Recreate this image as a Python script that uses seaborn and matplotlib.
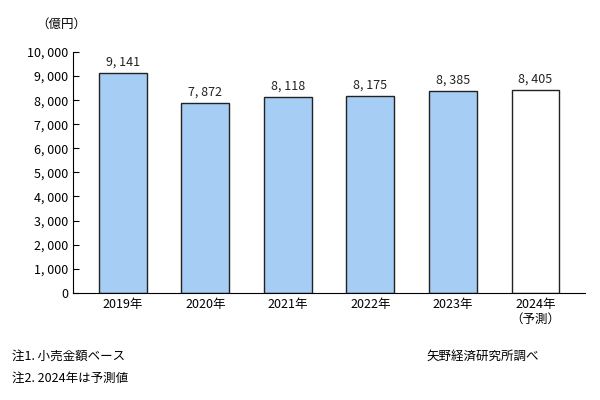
import matplotlib
matplotlib.use("Agg")
import matplotlib.pyplot as plt
import seaborn as sns
import pandas as pd

categories = ["2019年", "2020年", "2021年", "2022年", "2023年", "2024年\n（予測）"]
values = [9141, 7872, 8118, 8175, 8385, 8405]
labels = ["9, 141", "7, 872", "8, 118", "8, 175", "8, 385", "8, 405"]
yticks = list(range(0, 10001, 1000))
ytick_labels = ["0"] + [f"{v//1000}, 000" for v in yticks[1:]]

plt.rcParams["font.family"] = "Noto Sans CJK JP"

fig = plt.figure(figsize=(6, 4), dpi=100)
ax = fig.add_axes([0.122, 0.268, 0.853, 0.602])
df = pd.DataFrame({"cat": categories, "val": values})
sns.barplot(data=df, x="cat", y="val", ax=ax, width=0.58,
            color="#a6cdf3", edgecolor="#222222", linewidth=1.0, saturation=1)
for i, p in enumerate(ax.patches):
    if i == len(values) - 1:
        p.set_facecolor("white")
for i, v in enumerate(values):
    ax.text(i, v + 180, labels[i], ha="center", va="bottom", fontsize=9, color="#222222")

ax.set_ylim(0, 10000)
ax.set_yticks(yticks)
ax.set_yticklabels(ytick_labels, fontsize=9)
ax.tick_params(axis="x", length=0, labelsize=9)
ax.tick_params(axis="y", direction="in", length=4)
ax.set_xlabel("")
ax.set_ylabel("")
for s in ["top", "right"]:
    ax.spines[s].set_visible(False)
ax.set_xlim(-0.6, len(values) - 0.4)

fig.text(0.06, 0.93, "（億円）", fontsize=9)
fig.text(0.02, 0.1, "注1. 小売金額ベース", fontsize=9)
fig.text(0.02, 0.045, "注2. 2024年は予測値", fontsize=9)
fig.text(0.71, 0.1, "矢野経済研究所調べ", fontsize=9)
fig.savefig("out.png", dpi=100)
